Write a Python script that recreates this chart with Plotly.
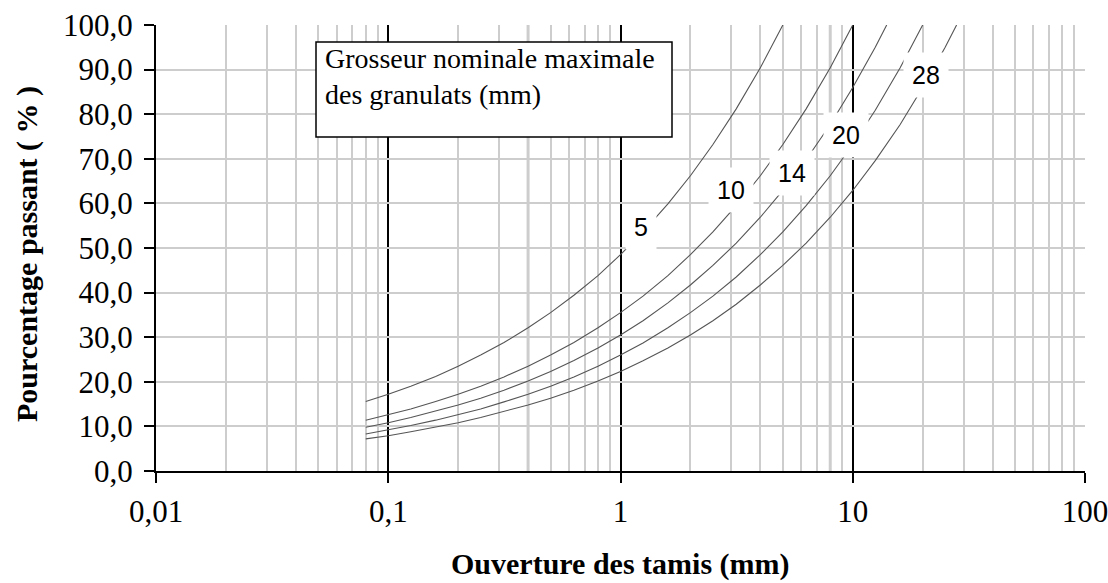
import math
import plotly.graph_objects as go

# Sieve openings (mm)
sieves = [0.08, 0.1, 0.125, 0.16, 0.2, 0.25, 0.315, 0.4, 0.5, 0.63, 0.8, 1,
          1.25, 1.6, 2, 2.5, 3.15, 4, 5, 6.3, 8, 10, 12.5, 14, 16, 20, 25, 28]

# Percentage passing for each nominal maximum aggregate size (mm)
pass_5 = [15.6, 17.2, 19.0, 21.2, 23.5, 26.0, 28.8, 32.1, 35.5, 39.4, 43.8, 48.5,
          53.6, 59.9, 66.2, 73.2, 81.2, 90.4, 100.0]
pass_10 = [11.4, 12.6, 13.9, 15.6, 17.2, 19.0, 21.1, 23.5, 26.0, 28.8, 32.1, 35.5,
           39.2, 43.8, 48.5, 53.6, 59.5, 66.2, 73.2, 81.2, 90.4, 100.0]
pass_14 = [9.8, 10.8, 12.0, 13.4, 14.8, 16.3, 18.1, 20.2, 22.3, 24.8, 27.6, 30.5,
           33.7, 37.7, 41.7, 46.1, 51.1, 56.9, 62.9, 69.8, 77.7, 86.0, 95.0, 100.0]
pass_20 = [8.3, 9.2, 10.2, 11.4, 12.6, 13.9, 15.5, 17.2, 19.0, 21.1, 23.5, 26.0,
           28.7, 32.1, 35.5, 39.2, 43.5, 48.5, 53.6, 59.5, 66.2, 73.2, 80.9, 85.2,
           90.4, 100.0]
pass_28 = [7.2, 7.9, 8.8, 9.8, 10.8, 12.0, 13.3, 14.8, 16.3, 18.1, 20.2, 22.3,
           24.7, 27.6, 30.5, 33.7, 37.4, 41.7, 46.1, 51.1, 56.9, 62.9, 69.6, 73.2,
           77.7, 86.0, 95.0, 100.0]

curves = [pass_5, pass_10, pass_14, pass_20, pass_28]

# Curve labels (nominal max size) and where they sit
label_names = ["5", "10", "14", "20", "28"]
label_x = [1.22, 2.99, 5.5, 9.35, 20.7]
label_y = [54.7, 63.0, 66.8, 75.3, 88.8]

# Axis ticks
x_tickvals = [0.01, 0.1, 1, 10, 100]
x_ticktext = ["0,01", "0,1", "1", "10", "100"]
y_tickvals = [0, 10, 20, 30, 40, 50, 60, 70, 80, 90, 100]
y_ticktext = ["0,0", "10,0", "20,0", "30,0", "40,0", "50,0", "60,0", "70,0",
              "80,0", "90,0", "100,0"]
x_minor = [k * 10 ** e for e in range(-2, 2) for k in range(2, 10)]
thick_grid_x = [0.4, 8]

W, H = 1108, 583
L, R, T, B = 156, 23, 25, 112
PW, PH = W - L - R, H - T - B


def px_x(p):
    return (p - L) / PW


def px_y(p):
    return 1 - (p - T) / PH


fig = go.Figure()
for ys in curves:
    fig.add_trace(go.Scatter(
        x=sieves[:len(ys)], y=ys, mode="lines",
        line=dict(color="#555555", width=1.1),
        hoverinfo="skip", showlegend=False))

serif = "Liberation Serif"
grid_grey = "#cdcdcd"

fig.update_layout(
    width=W, height=H,
    margin=dict(l=L, r=R, t=T, b=B, pad=0, autoexpand=False),
    paper_bgcolor="white", plot_bgcolor="white",
    showlegend=False,
    xaxis=dict(
        type="log", range=[-2, 2], automargin=False,
        tickvals=x_tickvals, ticktext=x_ticktext,
        ticklabeloverflow="allow",
        showgrid=True, gridcolor="black", gridwidth=1.5,
        minor=dict(tickvals=x_minor, showgrid=True, gridcolor=grid_grey,
                   gridwidth=1.5, ticks=""),
        showline=True, linecolor="black", linewidth=2,
        ticks="outside", ticklen=10, tickwidth=1.5, tickcolor="black",
        tickfont=dict(family=serif, size=31, color="black"),
        ticklabelstandoff=2,
        zeroline=False,
    ),
    yaxis=dict(
        range=[0, 100], automargin=False,
        tickvals=y_tickvals, ticktext=y_ticktext,
        ticklabeloverflow="allow",
        showgrid=True, gridcolor=grid_grey, gridwidth=1.5,
        showline=True, linecolor="black", linewidth=2,
        ticks="outside", ticklen=10, tickwidth=1.5, tickcolor="black",
        tickfont=dict(family=serif, size=31, color="black"),
        ticklabelstandoff=5,
        zeroline=False,
    ),
)

for xv in thick_grid_x:
    fig.add_shape(type="line", xref="x", yref="paper", x0=xv, x1=xv, y0=0, y1=1,
                  line=dict(color=grid_grey, width=3), layer="between")

# Caption box
fig.add_shape(type="rect", xref="paper", yref="paper",
              x0=px_x(316), x1=px_x(672), y0=px_y(137), y1=px_y(42),
              fillcolor="white", line=dict(color="black", width=1.5), layer="above")
fig.add_annotation(xref="paper", yref="paper", x=px_x(323), y=px_y(41),
                   xanchor="left", yanchor="top", align="left", showarrow=False,
                   text="Grosseur nominale maximale<br>des granulats (mm)",
                   font=dict(family=serif, size=28, color="black"))

# Curve labels on white patches
for name, lx, ly in zip(label_names, label_x, label_y):
    fig.add_annotation(xref="x", yref="y", x=math.log10(lx), y=ly, text=name,
                       showarrow=False, bgcolor="white", borderpad=8,
                       font=dict(family="Liberation Sans", size=25, color="black"))

# Axis titles
fig.add_annotation(xref="paper", yref="paper", x=0.5, y=px_y(583),
                   xanchor="center", yanchor="bottom", showarrow=False,
                   text="<b>Ouverture des tamis (mm)</b>",
                   font=dict(family=serif, size=30, color="black"))
fig.add_annotation(xref="paper", yref="paper", x=px_x(27), y=px_y(254),
                   xanchor="center", yanchor="middle", showarrow=False,
                   textangle=-90, text="<b>Pourcentage passant ( % )</b>",
                   font=dict(family=serif, size=30, color="black"))

fig.write_html("out.html")
